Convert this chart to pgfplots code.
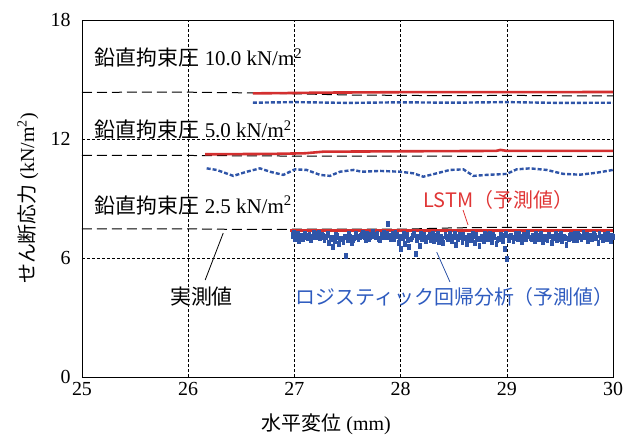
\documentclass[border=0pt]{standalone}
\usepackage{fontspec}
\setmainfont{Liberation Serif}
\newfontfamily\jp{Noto Sans CJK JP}
\usepackage{pgfplots}
\pgfplotsset{compat=1.18}
\definecolor{lred}{HTML}{D32F2F}
\definecolor{lblue}{HTML}{2F55A8}
\definecolor{tblue}{HTML}{2E5BBF}
\definecolor{tred}{HTML}{E03535}
\newcommand{\fs}{\fontsize{20}{24}\selectfont}
\newcommand{\fa}{\fontsize{21}{25}\selectfont}
\begin{document}
\begin{tikzpicture}
\useasboundingbox (-82bp,-60bp) rectangle (547bp,377bp);
\begin{axis}[
  scale only axis,
  width=531bp, height=357bp,
  xmin=25, xmax=30, ymin=0, ymax=18,
  xtick={25,26,27,28,29,30},
  ytick={0,6,12,18},
  major tick length=0pt,
  grid=major,
  major grid style={black, line width=0.6bp, dash pattern=on 3bp off 2bp},
  axis line style={black, line width=0.9bp},
  /pgf/number format/assume math mode=true,
  tick label style={font=\fontsize{20}{23}\selectfont},
  yticklabel style={xshift=-8bp},
  xticklabel style={yshift=-2bp},
  xlabel={{\jp 水平変位} (mm)},
  ylabel={{\jp せん断応力} (kN/m\textsuperscript{2})},
  label style={font=\fs},
  xlabel style={at={(axis description cs:0.46,0)}, anchor=north, inner sep=0pt, yshift=-37bp},
  ylabel style={at={(axis description cs:-0.102,0.5)}, anchor=center, inner sep=0pt},
  clip=false,
]
% measured (black dashed)
\addplot[black, line width=1bp, dash pattern=on 10bp off 5bp] coordinates {
 (25.0,14.35) (25.5,14.36) (26.0,14.36) (26.5,14.33) (27.0,14.28) (27.5,14.22) (28.0,14.20) (28.5,14.18) (29.0,14.20) (29.5,14.18) (30.0,14.17)};
\addplot[black, line width=1bp, dash pattern=on 10bp off 5bp] coordinates {
 (25.0,11.18) (25.5,11.17) (26.0,11.17) (26.5,11.15) (27.0,11.14) (27.5,11.14) (28.0,11.14) (28.5,11.13) (29.0,11.13) (29.5,11.12) (30.0,11.12)};
\addplot[black, line width=1bp, dash pattern=on 10bp off 5bp] coordinates {
 (25.0,7.47) (25.5,7.47) (26.0,7.47) (26.5,7.44) (27.0,7.45) (27.5,7.45) (28.0,7.45) (28.5,7.52) (29.0,7.55) (29.5,7.55) (30.0,7.55)};
% logistic regression (blue)
\addplot[lblue, line width=2.4bp, dash pattern=on 4bp off 2bp] coordinates {
 (26.61,13.83) (27.0,13.86) (27.5,13.82) (28.0,13.85) (28.5,13.83) (29.0,13.86) (29.5,13.82) (30.0,13.83)};
\addplot[lblue, line width=2.4bp, dash pattern=on 4bp off 2bp] coordinates {
 (26.174,10.52) (26.268,10.44) (26.425,10.14) (26.551,10.35) (26.676,10.52) (26.770,10.35) (26.895,10.19) (27.006,10.47) (27.116,10.44) (27.241,10.19) (27.335,10.14) (27.429,10.35) (27.555,10.44) (27.634,10.35) (27.806,10.39) (27.994,10.35) (28.120,10.27) (28.214,10.10) (28.340,10.27) (28.465,10.44) (28.591,10.47) (28.685,10.14) (28.811,10.19) (28.999,10.24) (29.093,10.47) (29.218,10.52) (29.376,10.44) (29.532,10.24) (29.689,10.20) (29.846,10.30) (30.0,10.44)};
\addplot[only marks, mark=square*, mark size=1.4bp, mark options={yscale=1.8}, lblue] coordinates {
 (26.98,7.15) (27.00,6.95) (27.02,7.05) (27.04,6.85) (27.06,7.10) (27.08,6.95) (27.10,7.20) (27.12,7.00) (27.14,7.15) (27.16,7.05) (27.18,7.25) (27.20,7.10) (27.22,7.20) (27.24,7.00) (27.26,7.15) (27.28,6.90) (27.30,7.05) (27.32,6.75) (27.34,6.95) (27.36,6.55) (27.38,6.85) (27.40,7.10) (27.42,6.70) (27.44,6.95) (27.46,6.80) (27.48,6.10) (27.50,6.90) (27.52,7.05) (27.54,6.75) (27.56,7.00) (27.58,7.20) (27.60,6.95) (27.62,7.10) (27.64,7.25) (27.66,7.05) (27.68,7.20) (27.70,6.95) (27.72,7.15) (27.74,7.30) (27.76,7.05) (27.78,7.20) (27.80,6.90) (27.82,7.15) (27.84,7.25) (27.86,7.05) (27.88,7.72) (27.90,7.10) (27.92,7.20) (27.94,6.95) (27.96,7.15) (27.98,6.75) (28.00,6.45) (28.02,7.00) (28.04,6.70) (28.06,7.15) (28.08,6.55) (28.10,6.95) (28.12,7.20) (28.14,6.20) (28.16,7.05) (28.18,6.60) (28.20,6.95) (28.22,7.15) (28.24,6.85) (28.26,7.05) (28.28,6.90) (28.30,7.20) (28.32,6.95) (28.34,7.10) (28.36,6.80) (28.38,7.05) (28.40,6.75) (28.42,7.15) (28.44,6.95) (28.46,7.20) (28.48,6.85) (28.50,7.05) (28.52,6.65) (28.54,6.95) (28.56,7.15) (28.58,6.80) (28.60,7.00) (28.62,6.70) (28.64,7.10) (28.66,6.90) (28.68,7.20) (28.70,6.75) (28.72,6.95) (28.74,6.60) (28.76,7.05) (28.78,6.85) (28.80,7.15) (28.82,6.95) (28.84,7.20) (28.86,6.80) (28.88,7.05) (28.90,6.70) (28.92,6.95) (28.94,7.15) (28.96,6.85) (28.98,6.45) (29.00,5.95) (29.02,6.90) (29.04,7.10) (29.06,6.85) (29.08,7.20) (29.10,6.95) (29.12,7.05) (29.14,6.80) (29.16,7.15) (29.18,6.95) (29.20,7.25) (29.22,7.00) (29.24,7.10) (29.26,6.85) (29.28,7.05) (29.30,6.95) (29.32,7.20) (29.34,6.80) (29.36,7.05) (29.38,6.90) (29.40,7.15) (29.42,6.75) (29.44,7.00) (29.46,7.20) (29.48,6.95) (29.50,7.10) (29.52,6.85) (29.54,7.05) (29.56,6.65) (29.58,6.95) (29.60,7.15) (29.62,7.00) (29.64,7.20) (29.66,6.90) (29.68,7.10) (29.70,6.95) (29.72,7.25) (29.74,7.05) (29.76,6.85) (29.78,7.10) (29.80,6.95) (29.82,7.20) (29.84,7.00) (29.86,6.75) (29.88,7.05) (29.90,6.90) (29.92,7.15) (29.94,6.95) (29.96,7.10) (29.98,6.85) (30.00,7.05)};
\addplot[only marks, mark=square*, mark size=1.4bp, mark options={yscale=1.8}, lblue] coordinates {
 (26.99,7.25) (27.03,7.20) (27.07,7.00) (27.11,7.10) (27.15,6.90) (27.19,7.05) (27.23,7.25) (27.27,7.10) (27.31,7.20) (27.35,7.00) (27.39,7.15) (27.43,6.95) (27.47,7.05) (27.51,7.20) (27.55,6.90) (27.59,7.05) (27.63,7.15) (27.67,6.90) (27.71,7.05) (27.75,7.15) (27.79,6.95) (27.83,7.05) (27.87,7.20) (27.91,6.95) (27.95,7.25) (27.99,7.05) (28.03,7.20) (28.07,6.90) (28.11,7.10) (28.15,6.90) (28.19,7.20) (28.23,7.00) (28.27,7.15) (28.31,6.85) (28.35,7.20) (28.39,6.95) (28.43,7.05) (28.47,6.95) (28.51,7.20) (28.55,7.05) (28.59,7.15) (28.63,6.95) (28.67,7.05) (28.71,7.15) (28.75,6.95) (28.79,7.20) (28.83,7.05) (28.87,7.15) (28.91,6.90) (28.95,7.10) (28.99,7.20) (29.03,7.05) (29.07,7.00) (29.11,7.20) (29.15,7.05) (29.19,7.15) (29.23,6.95) (29.27,7.20) (29.31,7.10) (29.35,6.95) (29.39,7.15) (29.43,7.05) (29.47,6.90) (29.51,7.20) (29.55,7.00) (29.59,7.10) (29.63,6.90) (29.67,7.20) (29.71,7.05) (29.75,7.15) (29.79,6.95) (29.83,7.10) (29.87,7.20) (29.91,7.05) (29.95,7.20) (29.99,7.10)};
% LSTM (red)
\addplot[lred, line width=2.6bp] coordinates {
 (26.61,14.30) (27.0,14.32) (27.3,14.34) (28.0,14.36) (29.0,14.36) (30.0,14.37)};
\addplot[lred, line width=2.6bp] coordinates {
 (26.16,11.23) (26.8,11.25) (27.1,11.28) (27.27,11.36) (28.0,11.38) (28.9,11.40) (28.94,11.45) (29.0,11.40) (30.0,11.40)};
\addplot[lred, line width=2.6bp] coordinates {
 (26.96,7.38) (28.0,7.38) (29.0,7.38) (30.0,7.38)};
% annotations
\node[anchor=west, inner sep=0pt, font=\fa] at (axis cs:25.12,16.09) {{\jp 鉛直拘束圧} 10.0 kN/m\textsuperscript{2}};
\node[anchor=west, inner sep=0pt, font=\fa] at (axis cs:25.12,12.46) {{\jp 鉛直拘束圧} 5.0 kN/m\textsuperscript{2}};
\node[anchor=west, inner sep=0pt, font=\fa] at (axis cs:25.12,8.67) {{\jp 鉛直拘束圧} 2.5 kN/m\textsuperscript{2}};
\node[inner sep=0pt, font=\fs\jp, text=tred] at (axis cs:28.92,8.93) {LSTM（予測値）};
\draw[tred, line width=0.8bp] (axis cs:28.588,8.42) -- (axis cs:28.635,7.67);
\node[inner sep=0pt, font=\fs\jp, text=tblue] at (axis cs:28.51,4.03) {ロジスティック回帰分析（予測値）};
\draw[lblue, line width=0.8bp] (axis cs:28.34,6.30) -- (axis cs:28.465,4.79);
\node[inner sep=0pt, font=\fa\jp] at (axis cs:26.125,4.03) {実測値};
\draw[black, line width=0.8bp] (axis cs:26.33,7.26) -- (axis cs:26.16,4.89);
\end{axis}
\end{tikzpicture}
\end{document}
